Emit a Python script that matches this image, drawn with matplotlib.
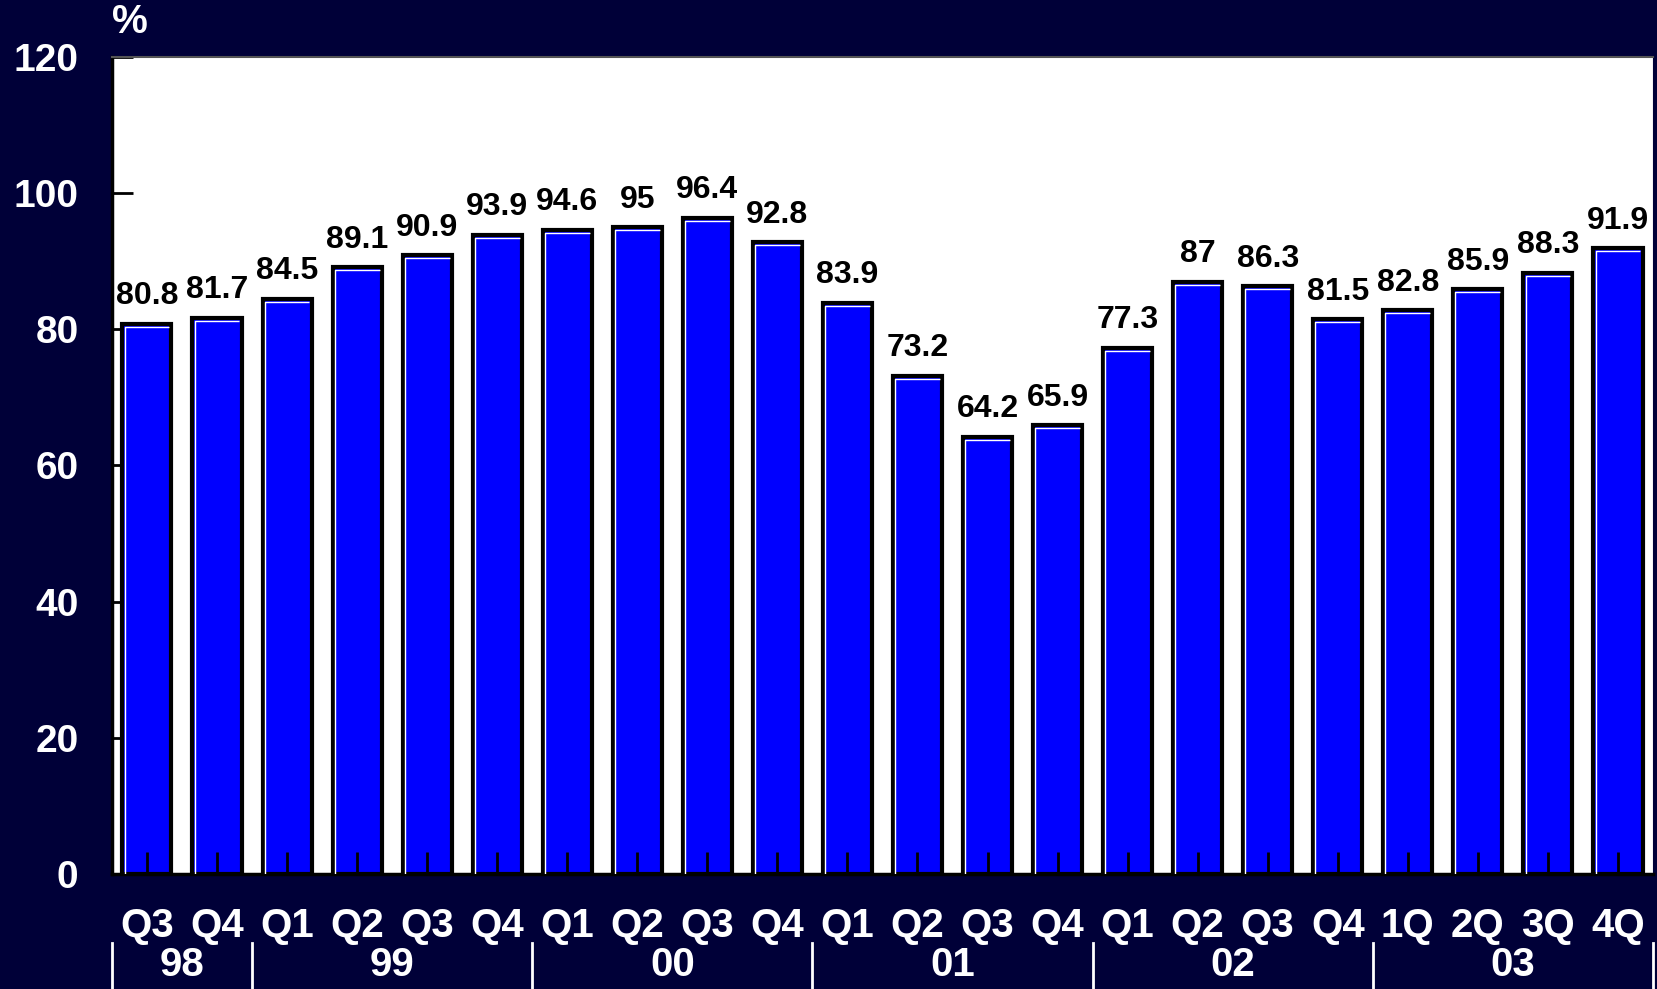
import matplotlib
matplotlib.use("Agg")
import matplotlib.pyplot as plt
import matplotlib.transforms as mtransforms

# data
quarters = ["Q3", "Q4", "Q1", "Q2", "Q3", "Q4", "Q1", "Q2", "Q3", "Q4", "Q1",
            "Q2", "Q3", "Q4", "Q1", "Q2", "Q3", "Q4", "1Q", "2Q", "3Q", "4Q"]
values = [80.8, 81.7, 84.5, 89.1, 90.9, 93.9, 94.6, 95, 96.4, 92.8, 83.9,
          73.2, 64.2, 65.9, 77.3, 87, 86.3, 81.5, 82.8, 85.9, 88.3, 91.9]
years = ["98", "99", "00", "01", "02", "03"]
year_counts = [2, 4, 4, 4, 4, 4]
yticks = [0, 20, 40, 60, 80, 100, 120]

BG = "#000038"
BAR = "#0000FF"
FONT = "Liberation Sans"

fig = plt.figure(figsize=(16.58, 9.89), dpi=100, facecolor=BG)
ax = fig.add_axes([0.0675, 0.1163, 0.9295, 0.8261])
ax.set_facecolor("white")

x = list(range(len(values)))
width = 0.7
ax.bar(x, values, width=width, color=BAR, edgecolor="black", linewidth=3, zorder=2)

# white bevel line on top/left inside each bar
dx, dy = 0.03, 0.45
for xi, v in zip(x, values):
    left = xi - width / 2 + dx
    ax.plot([left, left, xi + width / 2 - dx], [0, v - dy, v - dy],
            color="white", lw=1.0, zorder=3, solid_capstyle="butt")

for xi, v in zip(x, values):
    ax.annotate(f"{v:g}", (xi, v), xytext=(0, 9), textcoords="offset points",
                ha="center", va="bottom", fontsize=23, fontweight="bold",
                family=FONT, color="black")

ax.set_xlim(-0.5, len(values) - 0.5)
ax.set_ylim(0, 120)
ax.set_yticks(yticks)
ax.set_xticks(x)
ax.set_xticklabels(quarters)

ax.tick_params(axis="y", direction="in", length=15, width=2, color="black",
               pad=24, labelsize=28, labelcolor="white")
ax.tick_params(axis="x", direction="in", length=16, width=2, color="black",
               pad=24, labelsize=29, labelcolor="white")
for lab in ax.get_xticklabels() + ax.get_yticklabels():
    lab.set_fontweight("bold")
    lab.set_family(FONT)
ax.xaxis.set_zorder(4)

for side in ["left", "bottom"]:
    ax.spines[side].set_linewidth(2.5)
    ax.spines[side].set_color("black")
ax.spines["top"].set_color("#555555")
ax.spines["top"].set_linewidth(1.5)
ax.spines["right"].set_color(BG)

ax.text(0.0, 1.02, "%", transform=ax.transAxes, ha="left", va="bottom",
        fontsize=29, fontweight="bold", family=FONT, color="white")

# year group labels and separators below the quarter labels
trans = mtransforms.blended_transform_factory(ax.transData, ax.transAxes)
start = -0.5
bounds = [start]
for yr, n in zip(years, year_counts):
    end = start + n
    ax.text((start + end) / 2, -0.112, yr, transform=trans, ha="center", va="center",
            fontsize=29, fontweight="bold", family=FONT, color="white")
    bounds.append(end)
    start = end
for b in bounds:
    ax.plot([b, b], [-0.085, -0.2], transform=trans, color="white", lw=2,
            clip_on=False)

fig.savefig("out.png", dpi=100, facecolor=BG)
